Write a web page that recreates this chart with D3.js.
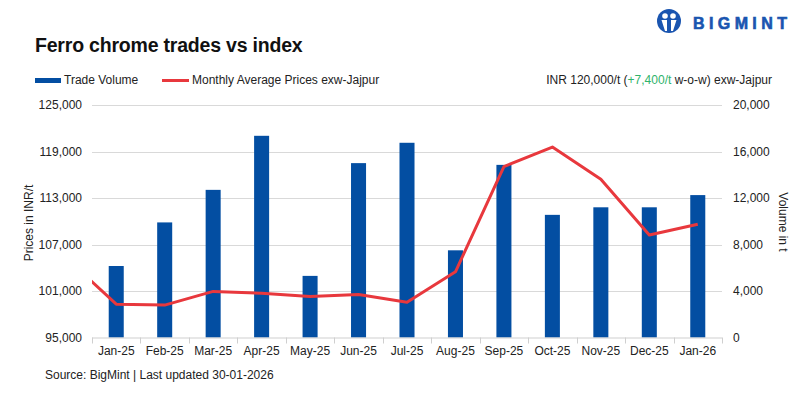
<!DOCTYPE html>
<html>
<head>
<meta charset="utf-8">
<script src="https://cdn.jsdelivr.net/npm/d3@7"></script>
<style>
  body { margin: 0; background: #fff; }
  svg { display: block; font-family: "Liberation Sans", Arial, sans-serif; }
  .tick-label { font-size: 12px; fill: #222; }
</style>
</head>
<body>
<div id="chart"></div>
<script>
const months = ['Jan-25', 'Feb-25', 'Mar-25', 'Apr-25', 'May-25', 'Jun-25', 'Jul-25',
  'Aug-25', 'Sep-25', 'Oct-25', 'Nov-25', 'Dec-25', 'Jan-26'];
const tradeVolume = [6150, 9900, 12700, 17350, 5300, 15000, 16750, 7500, 14850, 10550, 11200, 11200, 12250];
const avgPrice = [99300, 99180, 100950, 100700, 100300, 100550, 99560, 103480, 117060, 119570, 115430, 108230, 109610];
// previous month (Dec-24), only its segment into Jan-25 shows inside the plot
const prevPrice = 105100;
const priceTicks = [95000, 101000, 107000, 113000, 119000, 125000];
const volumeTicks = [0, 4000, 8000, 12000, 16000, 20000];

const W = 800, H = 399;
const plot = { left: 92, right: 722, top: 105, bottom: 337.5 };
const blue = '#034ea2', red = '#e8383d', grid = '#d9d9d9';

const svg = d3.select('#chart').append('svg').attr('width', W).attr('height', H);

const x = d3.scaleBand().domain(months).range([plot.left, plot.right])
  .paddingInner(0.69).paddingOuter(0.345);
const step = x.step();
const yPrice = d3.scaleLinear().domain([95000, 125000]).range([plot.bottom, plot.top]);
const yVol = d3.scaleLinear().domain([0, 20000]).range([plot.bottom, plot.top]);
const fmt = d3.format(',');

// title
svg.append('text').attr('x', 35).attr('y', 52)
  .attr('font-size', 19.5).attr('font-weight', 'bold').attr('fill', '#111')
  .attr('letter-spacing', -0.2)
  .text('Ferro chrome trades vs index');

// logo
const logo = svg.append('g').attr('transform', 'translate(669,21)');
logo.append('circle').attr('r', 12).attr('fill', '#1a55b0');
logo.append('circle').attr('cx', -4).attr('cy', -5).attr('r', 2.8).attr('fill', '#fff');
logo.append('circle').attr('cx', 4).attr('cy', -5).attr('r', 2.8).attr('fill', '#fff');
logo.append('path').attr('d', 'M-7.5,-1 L-2,-1 L-2,10 L-4,10 Z M7.5,-1 L2,-1 L2,10 L4,10 Z')
  .attr('fill', '#fff');
svg.append('text').attr('x', 693).attr('y', 29)
  .attr('font-size', 16).attr('font-weight', 'bold').attr('fill', '#1a55b0')
  .attr('stroke', '#1a55b0').attr('stroke-width', 0.6)
  .attr('letter-spacing', 4.4).text('BIGMINT');

// legend
svg.append('rect').attr('x', 35).attr('y', 78).attr('width', 26).attr('height', 5).attr('fill', blue);
svg.append('text').attr('x', 64).attr('y', 84).attr('class', 'tick-label').text('Trade Volume');
svg.append('line').attr('x1', 162).attr('x2', 189).attr('y1', 80.5).attr('y2', 80.5)
  .attr('stroke', red).attr('stroke-width', 3);
svg.append('text').attr('x', 192).attr('y', 84).attr('class', 'tick-label')
  .text('Monthly Average Prices exw-Jajpur');

const hdr = svg.append('text').attr('x', 772).attr('y', 84).attr('text-anchor', 'end')
  .attr('class', 'tick-label');
hdr.append('tspan').text('INR 120,000/t (');
hdr.append('tspan').attr('fill', '#2fb36b').text('+7,400/t');
hdr.append('tspan').text(' w-o-w) exw-Jajpur');

// gridlines
svg.append('g').selectAll('line').data(priceTicks.slice(1)).join('line')
  .attr('x1', plot.left).attr('x2', plot.right)
  .attr('y1', d => Math.round(yPrice(d)) + 0.5).attr('y2', d => Math.round(yPrice(d)) + 0.5)
  .attr('stroke', grid).attr('stroke-width', 1);

// left axis
const leftAxis = svg.append('g').attr('transform', `translate(${plot.left},0)`)
  .call(d3.axisLeft(yPrice).tickValues(priceTicks).tickSize(0).tickPadding(10).tickFormat(fmt));
leftAxis.select('.domain').remove();
leftAxis.selectAll('text').attr('class', 'tick-label').attr('font-size', null).attr('font-family', null);

// right axis
const rightAxis = svg.append('g').attr('transform', `translate(${plot.right},0)`)
  .call(d3.axisRight(yVol).tickValues(volumeTicks).tickSize(0).tickPadding(11).tickFormat(fmt));
rightAxis.select('.domain').remove();
rightAxis.selectAll('text').attr('class', 'tick-label').attr('font-size', null).attr('font-family', null);

// axis titles
svg.append('text').attr('transform', 'translate(33,223) rotate(-90)').attr('text-anchor', 'middle')
  .attr('class', 'tick-label').text('Prices in INR/t');
svg.append('text').attr('transform', 'translate(779,222) rotate(90)').attr('text-anchor', 'middle')
  .attr('class', 'tick-label').text('Volume in t');

// bars
svg.append('g').selectAll('rect').data(months).join('rect')
  .attr('x', d => x(d))
  .attr('width', x.bandwidth())
  .attr('y', (d, i) => yVol(tradeVolume[i]))
  .attr('height', (d, i) => plot.bottom - yVol(tradeVolume[i]))
  .attr('fill', blue);

// bottom axis
const bottom = svg.append('g').attr('transform', `translate(0,${plot.bottom})`);
bottom.append('line').attr('x1', plot.left).attr('x2', plot.right).attr('y1', 0.5).attr('y2', 0.5)
  .attr('stroke', '#cfcfcf');
bottom.selectAll('.tk').data(d3.range(months.length + 1)).join('line')
  .attr('x1', i => Math.round(plot.left + i * step) + 0.5)
  .attr('x2', i => Math.round(plot.left + i * step) + 0.5)
  .attr('y1', 0).attr('y2', 6).attr('stroke', '#cfcfcf');
const xAxis = svg.append('g').attr('transform', `translate(0,${plot.bottom})`)
  .call(d3.axisBottom(x).tickSize(0).tickPadding(9));
xAxis.select('.domain').remove();
xAxis.selectAll('text').attr('class', 'tick-label').attr('font-size', null).attr('font-family', null);

// price line
svg.append('clipPath').attr('id', 'plot-clip').append('rect')
  .attr('x', plot.left).attr('y', plot.top - 10)
  .attr('width', plot.right - plot.left).attr('height', plot.bottom - plot.top + 10);
const pts = [[x(months[0]) + x.bandwidth() / 2 - step, yPrice(prevPrice)]]
  .concat(months.map((m, i) => [x(m) + x.bandwidth() / 2, yPrice(avgPrice[i])]));
svg.append('path').datum(pts)
  .attr('clip-path', 'url(#plot-clip)')
  .attr('d', d3.line())
  .attr('fill', 'none').attr('stroke', red).attr('stroke-width', 3)
  .attr('stroke-linejoin', 'round');

// source
svg.append('text').attr('x', 45).attr('y', 379).attr('class', 'tick-label')
  .text('Source: BigMint | Last updated 30-01-2026');
</script>
</body>
</html>
